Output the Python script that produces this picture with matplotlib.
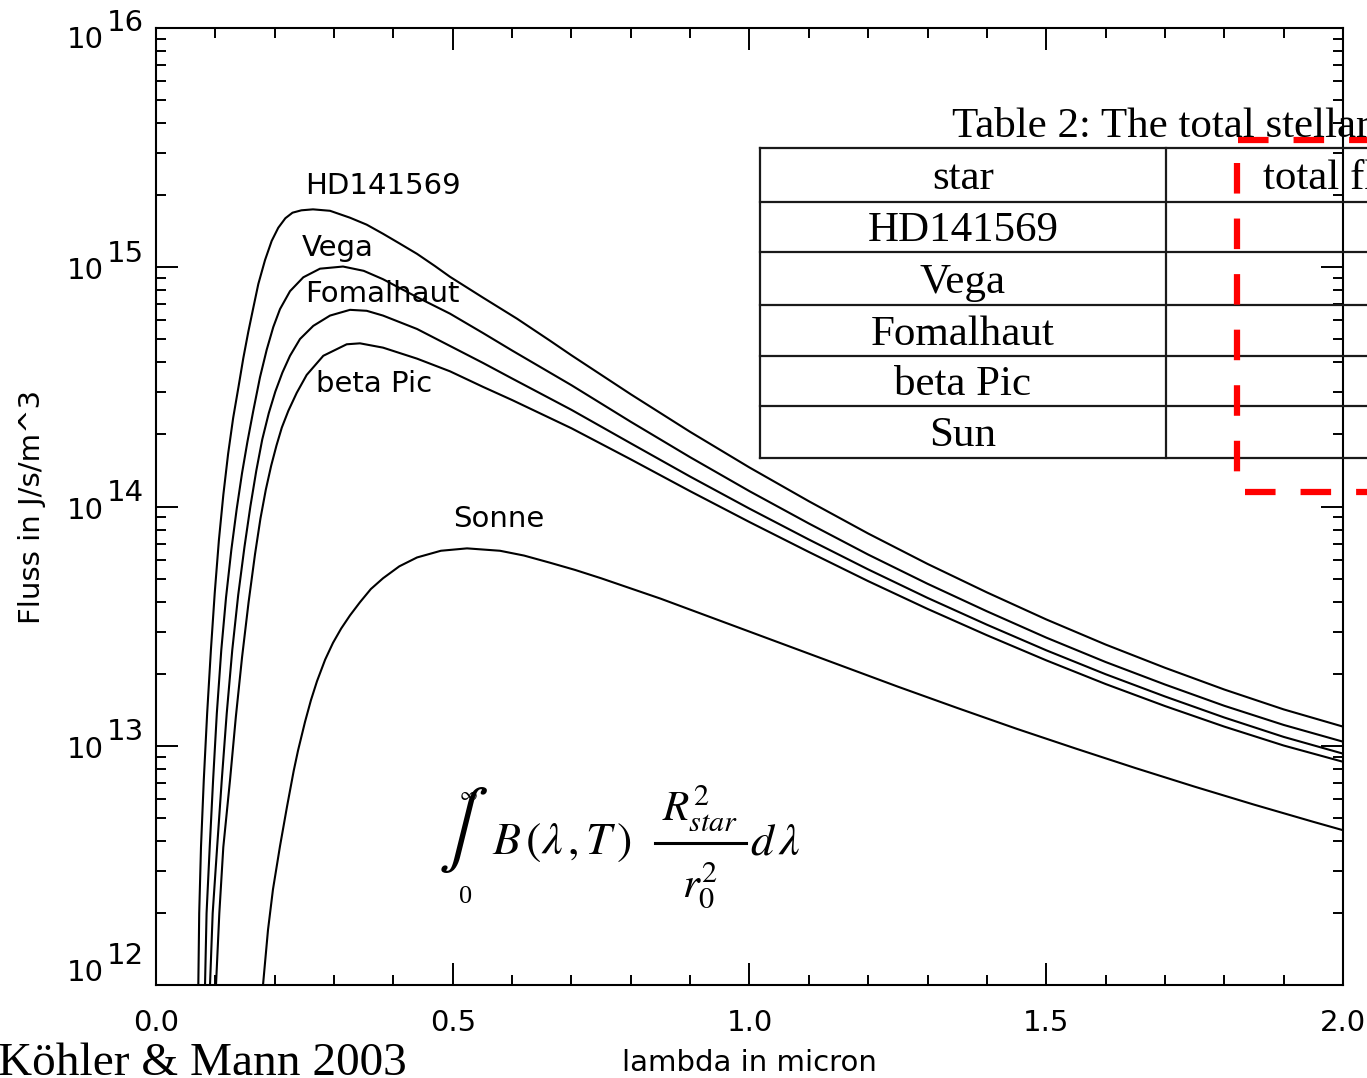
import numpy as np
import matplotlib.pyplot as plt
from matplotlib.lines import Line2D
from matplotlib.ticker import MultipleLocator, LogLocator, NullFormatter, FormatStrFormatter

plt.rcParams['font.family'] = 'DejaVu Sans'
plt.rcParams['mathtext.fontset'] = 'stix'
plt.rcParams['lines.scale_dashes'] = False

# wavelength in micron, log10 of the flux in J/s/m^3
hd_lam = [0.0713, 0.0728, 0.0758, 0.0805, 0.0862, 0.0925, 0.0990, 0.1060, 0.1135, 0.1215,
          0.1300, 0.1390, 0.1471, 0.1555, 0.1639, 0.1724, 0.1837, 0.1949, 0.2060, 0.2180,
          0.2300, 0.2450, 0.2645, 0.2932, 0.3269, 0.3550, 0.3825, 0.4100, 0.4398, 0.4700,
          0.4954, 0.5510, 0.6083, 0.6639, 0.7, 0.8, 0.9, 1.0, 1.1, 1.2,
          1.3, 1.4, 1.5, 1.6, 1.7, 1.8, 1.9, 2.0]
hd_logf = [12.00, 12.30, 12.576, 12.856, 13.136, 13.40, 13.64, 13.86, 14.05, 14.22,
           14.37, 14.50, 14.62, 14.73, 14.83, 14.93, 15.03, 15.11, 15.165, 15.205,
           15.228, 15.238, 15.242, 15.236, 15.207, 15.178, 15.140, 15.10, 15.056, 15.005,
           14.960, 14.873, 14.785, 14.693, 14.632, 14.469, 14.312, 14.163, 14.022, 13.887,
           13.760, 13.641, 13.528, 13.423, 13.326, 13.235, 13.152, 13.08]

vega_lam = [0.0826, 0.0852, 0.0905, 0.0962, 0.1025, 0.1100, 0.1180, 0.1270, 0.1360, 0.1450,
            0.1540, 0.1639, 0.1752, 0.1865, 0.1976, 0.2089, 0.2258, 0.2482, 0.2763, 0.3151,
            0.3500, 0.3825, 0.4398, 0.4954, 0.5510, 0.6, 0.7, 0.8, 0.9, 1.0,
            1.1, 1.2, 1.3, 1.4, 1.5, 1.6, 1.7, 1.8, 1.9, 2.0]
vega_logf = [12.00, 12.30, 12.576, 12.856, 13.136, 13.40, 13.62, 13.82, 13.99, 14.14,
             14.27, 14.40, 14.54, 14.655, 14.75, 14.825, 14.90, 14.958, 14.994, 15.003,
             14.985, 14.950, 14.875, 14.806, 14.725, 14.652, 14.507, 14.354, 14.206, 14.064,
             13.929, 13.799, 13.677, 13.562, 13.452, 13.350, 13.256, 13.167, 13.087, 13.017]

fom_lam = [0.0910, 0.0955, 0.1030, 0.1108, 0.1192, 0.1285, 0.1385, 0.1490, 0.1590, 0.1690,
           0.1790, 0.1900, 0.2010, 0.2130, 0.2258, 0.2426, 0.2650, 0.2932, 0.3269, 0.3550,
           0.3825, 0.4398, 0.4954, 0.5510, 0.6, 0.7, 0.8, 0.9, 1.0, 1.1,
           1.2, 1.3, 1.4, 1.5, 1.6, 1.7, 1.8, 1.9, 2.0]
fom_logf = [12.00, 12.30, 12.576, 12.856, 13.136, 13.40, 13.63, 13.83, 14.00, 14.15,
            14.28, 14.39, 14.48, 14.56, 14.63, 14.70, 14.755, 14.798, 14.822, 14.818,
            14.798, 14.742, 14.671, 14.600, 14.535, 14.404, 14.264, 14.125, 13.991, 13.862,
            13.737, 13.618, 13.506, 13.399, 13.299, 13.206, 13.118, 13.037, 12.967]

beta_lam = [0.1011, 0.1067, 0.1134, 0.1247, 0.1345, 0.1450, 0.1560, 0.1668, 0.1760, 0.1850,
            0.1940, 0.2030, 0.2120, 0.2230, 0.2371, 0.2539, 0.2819, 0.3213, 0.3437, 0.3825,
            0.4398, 0.4954, 0.5510, 0.6, 0.7, 0.8, 0.9, 1.0, 1.1, 1.2,
            1.3, 1.4, 1.5, 1.6, 1.7, 1.8, 1.9, 2.0]
beta_logf = [12.00, 12.30, 12.576, 12.856, 13.12, 13.37, 13.60, 13.80, 13.95, 14.07,
             14.17, 14.255, 14.33, 14.40, 14.475, 14.55, 14.63, 14.678, 14.682, 14.664,
             14.618, 14.565, 14.50, 14.445, 14.327, 14.197, 14.064, 13.935, 13.810, 13.688,
             13.572, 13.462, 13.357, 13.258, 13.166, 13.080, 13.001, 12.933]

sun_lam = [0.1803, 0.1887, 0.1971, 0.2089, 0.2207, 0.2320, 0.2393, 0.2511, 0.2610, 0.2713,
           0.2850, 0.2982, 0.3120, 0.3269, 0.3437, 0.3620, 0.3825, 0.4100, 0.4398, 0.4800,
           0.5240, 0.5796, 0.6200, 0.6639, 0.7060, 0.75, 0.85, 0.95, 1.05, 1.15,
           1.25, 1.35, 1.45, 1.55, 1.65, 1.75, 1.85, 1.95, 2.0]
sun_logf = [12.00, 12.23, 12.40, 12.58, 12.745, 12.895, 12.98, 13.10, 13.19, 13.27,
            13.36, 13.43, 13.49, 13.545, 13.60, 13.655, 13.70, 13.75, 13.787, 13.815,
            13.825, 13.815, 13.795, 13.765, 13.735, 13.70, 13.615, 13.523, 13.431, 13.339,
            13.247, 13.158, 13.071, 12.988, 12.907, 12.829, 12.754, 12.682, 12.647]

curves = [(hd_lam, hd_logf), (vega_lam, vega_logf), (fom_lam, fom_logf),
          (beta_lam, beta_logf), (sun_lam, sun_logf)]

# curve names and where they are written (micron, log10 flux)
names = ['HD141569', 'Vega', 'Fomalhaut', 'beta Pic', 'Sonne']
name_lam = [0.251, 0.246, 0.251, 0.270, 0.500]
name_logf = [15.34, 15.08, 14.889, 14.514, 13.946]

decades = [12, 13, 14, 15, 16]

table_title = 'Table 2: The total stellar flux'
table_rows = ['star', 'HD141569', 'Vega', 'Fomalhaut', 'beta Pic', 'Sun']
table_head2 = 'total flux'

W, H = 1367, 1078
fig = plt.figure(figsize=(W / 100, H / 100), dpi=100)
ax = fig.add_axes([156 / W, 1 - 985 / H, (1343 - 156) / W, (985 - 28) / H])


def fx(x):
    return x / W


def fy(y):
    return 1 - y / H


for lam, logf in curves:
    ax.plot(lam, 10 ** np.array(logf), color='black', lw=1.5, solid_joinstyle='round')

for name, lam, lf in zip(names, name_lam, name_logf):
    ax.text(lam, 10 ** lf, name, fontsize=21, ha='left', va='center')

ax.set_yscale('log')
ax.set_xlim(0, 2)
ax.set_ylim(1e12, 1e16)
ax.xaxis.set_major_locator(MultipleLocator(0.5))
ax.xaxis.set_minor_locator(MultipleLocator(0.1))
ax.xaxis.set_major_formatter(FormatStrFormatter('%.1f'))
ax.yaxis.set_major_locator(LogLocator(base=10, numticks=10))
ax.yaxis.set_minor_locator(LogLocator(base=10, subs=np.arange(2, 10), numticks=10))
ax.yaxis.set_minor_formatter(NullFormatter())
ax.tick_params(which='both', direction='in', top=True, right=True, width=1.4, color='black')
ax.tick_params(which='major', length=16)
ax.tick_params(which='minor', length=7.5)
ax.tick_params(axis='x', labelsize=21, pad=17)
ax.tick_params(axis='y', labelleft=False)
for s in ax.spines.values():
    s.set_linewidth(1.5)

# IDL style exponent labels
shift = {12: 8.6, 13: -2.9, 14: -2.9, 15: -2.9, 16: -8.6}
for e in decades:
    ax.annotate('10', xy=(0, 10.0 ** e), xycoords=('axes fraction', 'data'),
                xytext=(-37.4, shift[e]), textcoords='offset points',
                ha='right', va='center', fontsize=21)
    ax.annotate(str(e), xy=(0, 10.0 ** e), xycoords=('axes fraction', 'data'),
                xytext=(-35.3, shift[e] + 12.5), textcoords='offset points',
                ha='left', va='center', fontsize=21)

ax.set_xlabel('lambda in micron', fontsize=21, labelpad=9)
fig.text(fx(32), fy(507), 'Fluss in J/s/m^3', rotation=90, fontsize=21,
         ha='center', va='center')

# the integral
serif = 'Liberation Serif'
fig.text(fx(463), fy(830), r'$\int$', fontsize=54, ha='center', va='center')
fig.text(fx(468), fy(795), r'$\infty$', fontsize=14, ha='center', va='center')
fig.text(fx(466), fy(897), '0', fontsize=19, family=serif, ha='center', va='center')
fig.text(fx(492), fy(842), r'$B\,(\lambda\,,T\,)$', fontsize=33, ha='left', va='center')
fig.add_artist(Line2D([fx(655), fx(746)], [fy(843), fy(843)], color='black', lw=2.2))
fig.text(fx(700), fy(808), r'$R^{2}_{\mathbf{\mathit{star}}}$', fontsize=31, ha='center', va='center')
fig.text(fx(700), fy(885), r'$r^{2}_{0}$', fontsize=31, ha='center', va='center')
fig.text(fx(750), fy(842), r'$d\,\lambda$', fontsize=33, ha='left', va='center')

# pasted table
fig.text(fx(952), fy(127), table_title, family=serif, fontsize=31, ha='left', va='center')
row_y = [148, 202, 252, 305, 356, 406, 458]
for y in row_y:
    fig.add_artist(Line2D([fx(760), fx(1400)], [fy(y), fy(y)], color='#1a1a1a', lw=1.6))
for x in [760, 1166]:
    fig.add_artist(Line2D([fx(x), fx(x)], [fy(148), fy(458)], color='#1a1a1a', lw=1.6))
for i, row in enumerate(table_rows):
    yc = (row_y[i] + row_y[i + 1]) / 2 + 4
    fig.text(fx(963), fy(yc), row, family=serif, fontsize=31, ha='center', va='center')
fig.text(fx(1263), fy(179), table_head2, family=serif, fontsize=31, ha='left', va='center')

# red dashed frame
red = dict(color='#ff0000', lw=4.5, dashes=(22, 18), solid_capstyle='butt')
fig.add_artist(Line2D([fx(1238), fx(1420)], [fy(140), fy(140)], **red))
fig.add_artist(Line2D([fx(1237), fx(1237)], [fy(163), fy(476)], **red))
fig.add_artist(Line2D([fx(1245), fx(1420)], [fy(492), fy(492)], **red))

fig.text(fx(-2), fy(1075), 'Köhler & Mann 2003', family=serif, fontsize=34,
         ha='left', va='baseline')

fig.savefig('out.png', dpi=100)
